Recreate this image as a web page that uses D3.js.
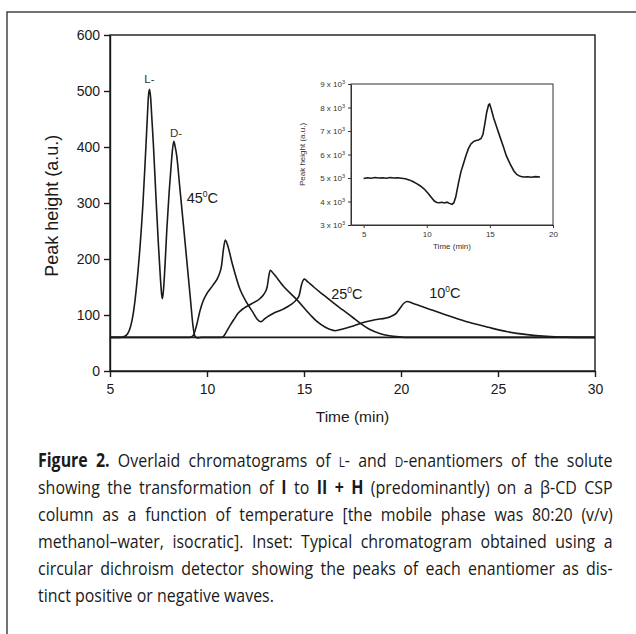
<!DOCTYPE html>
<html>
<head>
<meta charset="utf-8">
<script src="https://cdn.jsdelivr.net/npm/d3@7"></script>
<style>
  html, body { margin: 0; padding: 0; background: #fff; }
  svg { display: block; }
</style>
</head>
<body>
<div id="chart"></div>
<script>
// main chart: peak height vs time, one curve per temperature  [time (min), height (a.u.)]
var curve45 = [[5,60],[5.5,60],[5.7,61],[5.9,66],[6.05,78],[6.2,103],[6.35,145],[6.55,223],[6.7,300],[6.81,372],
  [6.92,450],[6.98,490],[7.03,503],[7.09,490],[7.16,450],[7.24,402],[7.37,310],[7.5,223],[7.6,165],[7.66,137],
  [7.7,129],[7.75,142],[7.83,185],[7.93,253],[8.05,320],[8.15,366],[8.22,395],[8.29,410],[8.35,402],[8.44,384],
  [8.6,327],[8.8,255],[9.0,182],[9.15,127],[9.28,80],[9.38,62],[9.5,59],[9.7,60],[30,60]];
var curve25 = [[5,60],[9.1,60],[9.3,64],[9.45,80],[9.65,109],[9.8,125],[9.99,138],[10.3,153],[10.6,170],[10.75,188],
  [10.85,218],[10.94,234],[11.05,226],[11.3,192],[11.71,145],[12.05,122],[12.4,103],[12.6,92],[12.78,88],[13.0,94],
  [13.43,103],[13.9,110],[14.3,118],[14.6,127],[14.75,135],[14.88,155],[15.02,164],[15.2,159],[15.5,150],[16.0,136],
  [16.5,122],[17.0,109],[17.5,96],[17.91,85],[18.4,74],[18.9,67],[19.4,63],[19.9,61],[20.4,60],[30,60]];
var curve10 = [[5,60],[10.7,60],[10.85,62],[11.0,70],[11.2,82],[11.37,91],[11.6,103],[11.89,112],[12.3,120],[12.75,130],
  [12.95,138],[13.1,150],[13.2,172],[13.26,180],[13.4,175],[13.95,151],[14.64,127],[15.33,100],[15.68,88],[16.1,78],
  [16.62,72],[17.0,75],[17.4,79],[17.9,85],[18.6,91],[19.46,97],[19.75,103],[19.95,112],[20.15,121],[20.32,124],
  [20.6,121],[21.0,116],[21.6,109],[22.6,97],[23.5,87],[24.5,78],[25.5,70],[26.5,65],[27.5,62],[28.5,60.5],[29.5,60],[30,60]];

// inset: circular dichroism trace  [time (min), signal (x10^3)]
var insetCD = [[5.0,4.98],[5.3,5.01],[5.6,4.99],[5.9,5.02],[6.2,5.0],[6.5,5.01],[6.8,4.99],[7.1,5.02],[7.4,5.0],
  [7.7,5.01],[8.0,4.99],[8.3,4.97],[8.6,4.92],[8.9,4.85],[9.2,4.76],[9.5,4.66],[9.8,4.53],[10.1,4.35],[10.4,4.15],
  [10.6,4.02],[10.8,3.96],[11.0,3.95],[11.2,3.97],[11.4,3.94],[11.6,3.97],[11.8,3.92],[12.0,3.88],[12.15,3.95],
  [12.3,4.2],[12.5,4.75],[12.7,5.25],[12.9,5.6],[13.1,5.95],[13.3,6.25],[13.5,6.45],[13.7,6.55],[13.9,6.6],
  [14.1,6.62],[14.3,6.68],[14.45,6.85],[14.6,7.3],[14.75,7.8],[14.9,8.12],[14.98,8.15],[15.1,7.95],[15.3,7.55],
  [15.55,7.15],[15.8,6.75],[16.07,6.33],[16.3,5.95],[16.6,5.6],[16.9,5.3],[17.13,5.15],[17.4,5.07],[17.65,5.04],
  [18.0,5.05],[18.3,5.03],[18.6,5.06],[18.97,5.04]];

var xTicks = [5, 10, 15, 20, 25, 30];
var yTicks = [0, 100, 200, 300, 400, 500, 600];
var insetXTicks = [5, 10, 15, 20];
var insetYTicks = [3, 4, 5, 6, 7, 8, 9];

// peak / temperature labels, anchored at [time, height]
var peakLabels = [{text: "L-", t: 7.03, v: 515}, {text: "D-", t: 8.4, v: 418}];
var tempLabels = [{deg: "45", t: 8.95, v: 300}, {deg: "25", t: 16.4, v: 129}, {deg: "10", t: 21.45, v: 131}];

var captionLines = [
  [{s: "Figure 2.", b: 1}, {s: " Overlaid chromatograms of "}, {s: "L", sc: 1}, {s: "- and "}, {s: "D", sc: 1}, {s: "-enantiomers of the solute"}],
  [{s: "showing the transformation of "}, {s: "I", b: 1}, {s: " to "}, {s: "II + H", b: 1}, {s: " (predominantly) on a \u03B2-CD CSP"}],
  [{s: "column as a function of temperature [the mobile phase was 80:20 (v/v)"}],
  [{s: "methanol\u2013water, isocratic]. Inset: Typical chromatogram obtained using a"}],
  [{s: "circular dichroism detector showing the peaks of each enantiomer as dis-"}],
  [{s: "tinct positive or negative waves."}]
];

var W = 636, H = 634;
var ink = "#1a1a1a";
var sans = "'Liberation Sans', Arial, Helvetica, sans-serif";

var svg = d3.select("#chart").append("svg")
    .attr("width", W)
    .attr("height", H);

// page frame (top and left edges only)
svg.append("path")
    .attr("d", "M7,634 L7,12 L636,12")
    .attr("fill", "none")
    .attr("stroke", "#444")
    .attr("stroke-width", 1.5);

// ---- main chart ----
var x = d3.scaleLinear().domain([5, 30]).range([110, 595]);
var y = d3.scaleLinear().domain([0, 600]).range([371, 35]);

svg.append("rect")
    .attr("x", x(5)).attr("y", y(600))
    .attr("width", x(30) - x(5)).attr("height", y(0) - y(600))
    .attr("fill", "none").attr("stroke", ink).attr("stroke-width", 1.4);

var xAxis = svg.append("g")
    .attr("transform", "translate(0," + y(0) + ")")
    .call(d3.axisBottom(x).tickValues(xTicks).tickSize(6).tickSizeOuter(0).tickPadding(7));
var yAxis = svg.append("g")
    .attr("transform", "translate(" + x(5) + ",0)")
    .call(d3.axisLeft(y).tickValues(yTicks).tickSize(6).tickSizeOuter(0).tickPadding(4));

[xAxis, yAxis].forEach(function(g) {
  g.attr("font-family", sans).attr("font-size", 14);
  g.select(".domain").attr("stroke", ink).attr("stroke-width", 1.4);
  g.selectAll(".tick line").attr("stroke", ink).attr("stroke-width", 1.4);
  g.selectAll(".tick text").attr("fill", ink);
});

svg.append("text")
    .attr("x", (x(5) + x(30)) / 2).attr("y", 422)
    .attr("text-anchor", "middle")
    .attr("font-family", sans).attr("font-size", 15.5).attr("fill", ink)
    .text("Time (min)");

svg.append("text")
    .attr("transform", "translate(58," + y(295) + ") rotate(-90)")
    .attr("text-anchor", "middle")
    .attr("font-family", sans).attr("font-size", 18).attr("fill", ink)
    .text("Peak  height (a.u.)");

var line = d3.line()
    .x(function(d) { return x(d[0]); })
    .y(function(d) { return y(d[1]); })
    .curve(d3.curveMonotoneX);

svg.selectAll(".trace")
    .data([curve45, curve25, curve10])
    .enter().append("path")
    .attr("class", "trace")
    .attr("d", line)
    .attr("fill", "none")
    .attr("stroke", ink)
    .attr("stroke-width", 1.6);

svg.selectAll(".peak-label")
    .data(peakLabels)
    .enter().append("text")
    .attr("class", "peak-label")
    .attr("x", function(d) { return x(d.t); })
    .attr("y", function(d) { return y(d.v); })
    .attr("text-anchor", "middle")
    .attr("font-family", sans).attr("font-size", 11.5).attr("fill", "#333")
    .text(function(d) { return d.text; });

var temps = svg.selectAll(".temp-label")
    .data(tempLabels)
    .enter().append("text")
    .attr("class", "temp-label")
    .attr("x", function(d) { return x(d.t); })
    .attr("y", function(d) { return y(d.v); })
    .attr("font-family", sans).attr("font-size", 14.5).attr("fill", ink);
temps.append("tspan").text(function(d) { return d.deg; });
temps.append("tspan").attr("font-size", 8.5).attr("dy", -6).text("0");
temps.append("tspan").attr("dy", 6).text("C");

// ---- inset ----
var ix = d3.scaleLinear().domain([4, 20]).range([351, 553]);
var iy = d3.scaleLinear().domain([3, 9]).range([225, 84]);

svg.append("rect")
    .attr("x", ix(4)).attr("y", iy(9))
    .attr("width", ix(20) - ix(4)).attr("height", iy(3) - iy(9))
    .attr("fill", "none").attr("stroke", "#333").attr("stroke-width", 1);

var ixAxis = svg.append("g")
    .attr("transform", "translate(0," + iy(3) + ")")
    .call(d3.axisBottom(ix).tickValues(insetXTicks).tickSize(3).tickSizeOuter(0).tickPadding(3));
var iyAxis = svg.append("g")
    .attr("transform", "translate(" + ix(4) + ",0)")
    .call(d3.axisLeft(iy).tickValues(insetYTicks).tickSize(3).tickSizeOuter(0).tickPadding(3).tickFormat(function() { return ""; }));

[ixAxis, iyAxis].forEach(function(g) {
  g.attr("font-family", sans).attr("font-size", 8);
  g.select(".domain").attr("stroke", "#333").attr("stroke-width", 1);
  g.selectAll(".tick line").attr("stroke", "#333");
  g.selectAll(".tick text").attr("fill", "#333");
});

// "n x 10^3" labels
var iyLab = iyAxis.selectAll(".tick text");
iyLab.text(null);
iyLab.append("tspan").text(function(d) { return d + " x 10"; });
iyLab.append("tspan").attr("font-size", 5.5).attr("dy", -3).text("3");

svg.append("text")
    .attr("x", (ix(4) + ix(20)) / 2).attr("y", 249)
    .attr("text-anchor", "middle")
    .attr("font-family", sans).attr("font-size", 8).attr("fill", "#333")
    .text("Time (min)");

svg.append("text")
    .attr("transform", "translate(305," + iy(6) + ") rotate(-90)")
    .attr("text-anchor", "middle")
    .attr("font-family", sans).attr("font-size", 8).attr("fill", "#333")
    .text("Peak height (a.u.)");

var iline = d3.line()
    .x(function(d) { return ix(d[0]); })
    .y(function(d) { return iy(d[1]); })
    .curve(d3.curveLinear);

svg.append("path")
    .datum(insetCD)
    .attr("d", iline)
    .attr("fill", "none")
    .attr("stroke", ink)
    .attr("stroke-width", 1.6);

// ---- caption: condensed look via horizontal scale, justified with word-spacing ----
var capFont = "'Open Sans', 'Noto Sans', sans-serif";
var capLeft = 38, capWidth = 575;
var cap = svg.selectAll(".cap")
    .data(captionLines)
    .enter().append("text")
    .attr("class", "cap")
    .attr("x", 0).attr("y", 0)
    .attr("font-family", capFont).attr("font-size", 19).attr("fill", ink);

cap.selectAll("tspan")
    .data(function(d) { return d; })
    .enter().append("tspan")
    .attr("font-weight", function(d) { return d.b ? "bold" : null; })
    .attr("font-size", function(d) { return d.sc ? 14 : null; })
    .text(function(d) { return d.s; });

var widths = cap.nodes().map(function(n) { return n.getComputedTextLength(); });
var sx = Math.min(0.84, capWidth / d3.max(widths.slice(0, -1)));
cap.each(function(d, i) {
  var t = d3.select(this);
  t.attr("transform", "translate(" + capLeft + "," + (467 + i * 27) + ") scale(" + sx + ",1)");
  if (i < captionLines.length - 1) {
    var full = d.map(function(p) { return p.s; }).join("");
    var gaps = full.split(" ").length - 1;
    t.attr("word-spacing", ((capWidth / sx - widths[i]) / gaps).toFixed(2));
  }
});
</script>
</body>
</html>
